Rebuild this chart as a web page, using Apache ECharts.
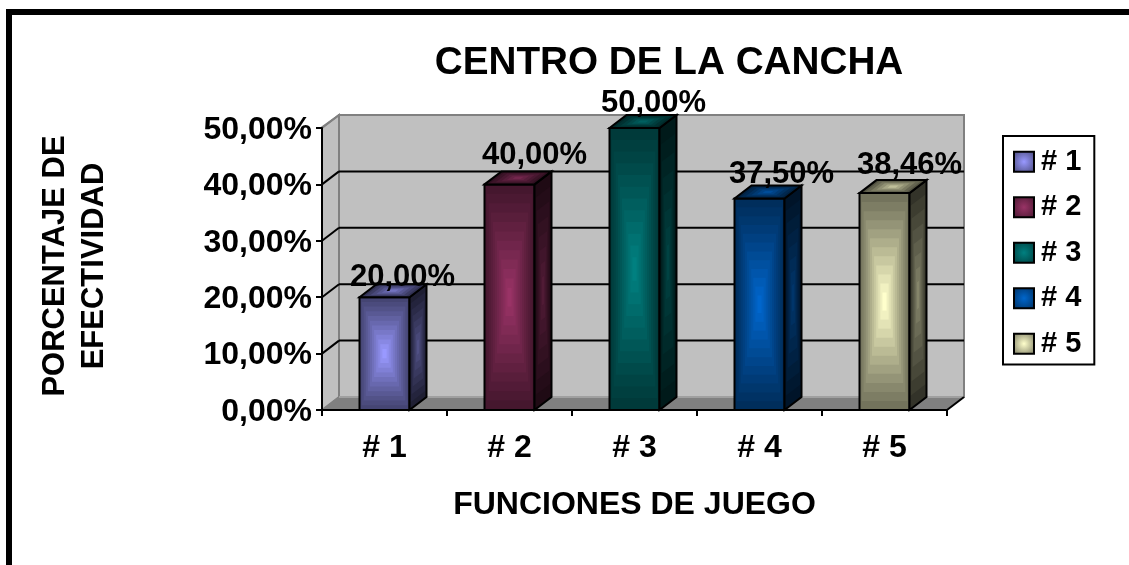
<!DOCTYPE html>
<html>
<head>
<meta charset="utf-8">
<script src="https://cdn.jsdelivr.net/npm/echarts@6/dist/echarts.min.js"></script>
<style>html,body{margin:0;padding:0;background:#fff}#c{width:1129px;height:565px}</style>
</head>
<body>
<div id="c"></div>
<script>
const categories = ['# 1', '# 2', '# 3', '# 4', '# 5'];
const values = [20.00, 40.00, 50.00, 37.50, 38.46];
const valueLabels = ['20,00%', '40,00%', '50,00%', '37,50%', '38,46%'];
const yTicks = [0, 10, 20, 30, 40, 50];
const centerColors = ['#9999ff', '#993366', '#008080', '#0066cc', '#ffffcc'];
const labelShift = [[1, -7], [8, -16], [2, -12], [5, -11], [8, -15]];

const DX = 17, DY = 13, BAR = 50, FONT = '"Liberation Sans", Arial, sans-serif';
const hex = c => [1, 3, 5].map(i => parseInt(c.substr(i, 2), 16));
const mixRGB = (c, f) => 'rgb(' + c.map(v => Math.round(v * f)).join(',') + ')';

function nested(pts, rgb, edgeF, centerF, steps) {
  // concentric quads from the face's edge to its centre
  const out = [];
  const cx = pts.reduce((s, p) => s + p[0], 0) / 4, cy = pts.reduce((s, p) => s + p[1], 0) / 4;
  for (let i = 0; i < steps; i++) {
    const t = i / steps, e = 1 - t;
    const k = Math.pow(i / (steps - 1), 1.1);
    out.push({
      type: 'polygon',
      shape: { points: pts.map(p => [cx + (p[0] - cx) * e, cy + (p[1] - cy) * e]) },
      style: { fill: mixRGB(rgb, edgeF + (centerF - edgeF) * k) }
    });
  }
  out.push({ type: 'polygon', shape: { points: pts }, style: { fill: 'none', stroke: '#000', lineWidth: 2 } });
  return out;
}

function renderWall(params, api) {
  const band = api.size([1, 0])[0];
  const val = api.value(1);
  const p = api.coord([0, val]);
  const x0 = p[0] - band / 2, x1 = x0 + band * categories.length;
  const y0 = api.coord([0, 0])[1], yTop = api.coord([0, yTicks[yTicks.length - 1]])[1];
  const kids = [];
  const line = (a, b, c, w) => ({ type: 'line', shape: { x1: a[0], y1: a[1], x2: b[0], y2: b[1] }, style: { stroke: c, lineWidth: w } });
  if (params.dataIndex === 0) {
    kids.push({ type: 'polygon', shape: { points: [[x0 + DX, yTop - DY], [x1 + DX, yTop - DY], [x1 + DX, y0 - DY], [x0 + DX, y0 - DY]] }, style: { fill: '#c0c0c0', stroke: '#808080', lineWidth: 2 } });
    kids.push({ type: 'polygon', shape: { points: [[x0, yTop], [x0 + DX, yTop - DY], [x0 + DX, y0 - DY], [x0, y0]] }, style: { fill: '#c0c0c0', stroke: '#808080', lineWidth: 2 } });
    kids.push({ type: 'polygon', shape: { points: [[x0, y0], [x1, y0], [x1 + DX, y0 - DY], [x0 + DX, y0 - DY]] }, style: { fill: '#808080', stroke: '#808080', lineWidth: 1 } });
    kids.push(line([x0 + DX, y0 - DY], [x1 + DX, y0 - DY], '#a0a0a0', 2));
    kids.push(line([x1, y0], [x1 + DX, y0 - DY], '#000', 2));
  } else if (val < yTicks[yTicks.length - 1]) {
    kids.push(line([x0, p[1]], [x0 + DX, p[1] - DY], '#000', 2));
    kids.push(line([x0 + DX, p[1] - DY], [x1 + DX, p[1] - DY], '#000', 2));
  } else {
    kids.push(line([x0 - 1, p[1]], [x0 + DX, p[1] - DY], '#808080', 2));
  }
  return { type: 'group', children: kids };
}

function renderBar(params, api) {
  const i = api.value(0), v = api.value(1);
  const top = api.coord([i, v]), base = api.coord([i, 0]);
  const l = top[0] - BAR / 2, r = top[0] + BAR / 2, t = top[1], b = base[1];
  const rgb = hex(centerColors[i]);
  const kids = [];
  kids.push(...nested([[l, t], [r, t], [r, b], [l, b]], rgb, 0.45, 1, 12));
  kids.push(...nested([[r, t], [r + DX, t - DY], [r + DX, b - DY], [r, b]], rgb, 0.2, 0.52, 8));
  kids.push(...nested([[l, t], [l + DX, t - DY], [r + DX, t - DY], [r, t]], rgb, 0.32, 0.75, 6));
  return { type: 'group', children: kids };
}

function renderLabel(params, api) {
  const i = api.value(0), v = api.value(1);
  const p = api.coord([i, v]);
  return {
    type: 'text', z2: 100,
    style: {
      x: p[0] + DX + labelShift[i][0], y: p[1] - DY + labelShift[i][1],
      text: valueLabels[i], fill: '#000', font: 'bold 31px ' + FONT, align: 'center', verticalAlign: 'middle'
    }
  };
}

const legendGrad = c => ({
  type: 'radial', x: 0.5, y: 0.5, r: 0.7,
  colorStops: [{ offset: 0, color: c }, { offset: 1, color: mixRGB(hex(c), 0.45) }]
});

const option = {
  animation: false,
  backgroundColor: '#fff',
  title: {
    text: 'CENTRO DE LA CANCHA', left: 664, top: 39, textAlign: 'center',
    textStyle: { fontFamily: FONT, fontWeight: 'bold', fontSize: 38.7, color: '#000' }
  },
  legend: {
    orient: 'vertical', left: 1003, top: 136,
    padding: [9, 13, 4, 10], itemGap: 12, itemWidth: 20, itemHeight: 20,
    borderColor: '#000', borderWidth: 2, backgroundColor: '#fff',
    textStyle: { fontFamily: FONT, fontWeight: 'bold', fontSize: 29, color: '#000', lineHeight: 33.5, padding: [0, 0, 0, 2] },
    selectedMode: false,
    data: categories.map((c, i) => ({
      name: c, icon: 'rect',
      itemStyle: { color: legendGrad(centerColors[i]), borderColor: '#000', borderWidth: 2 }
    }))
  },
  grid: { left: 322, top: 128, width: 625, height: 282 },
  xAxis: {
    type: 'category', data: categories, z: 3,
    name: 'FUNCIONES DE JUEGO', nameLocation: 'middle', nameGap: 79,
    nameTextStyle: { fontFamily: FONT, fontWeight: 'bold', fontSize: 32, color: '#000' },
    axisLine: { lineStyle: { color: '#000', width: 2 } },
    axisTick: { show: true, alignWithLabel: false, length: 6, lineStyle: { color: '#000', width: 2 } },
    axisLabel: { margin: 22, fontFamily: FONT, fontWeight: 'bold', fontSize: 32, color: '#000' },
    splitLine: { show: false }
  },
  yAxis: {
    type: 'value', min: 0, max: 50, interval: 10, z: 3,
    name: 'PORCENTAJE DE\nEFECTIVIDAD', nameLocation: 'middle', nameRotate: 90, nameGap: 208,
    nameTextStyle: { fontFamily: FONT, fontWeight: 'bold', fontSize: 31, color: '#000', lineHeight: 39, padding: [0, 0, 0, 6] },
    axisLine: { show: true, lineStyle: { color: '#000', width: 2 } },
    axisTick: { show: true, length: 6, lineStyle: { color: '#000', width: 2 } },
    axisLabel: { margin: 10, fontFamily: FONT, fontWeight: 'bold', fontSize: 32, color: '#000', lineHeight: 36, verticalAlign: 'top', padding: [-16, 0, 0, 0], formatter: v => v.toFixed(2).replace('.', ',') + '%' },
    splitLine: { show: false }
  },
  graphic: [
    { type: 'rect', shape: { x: 6, y: 9, width: 1123, height: 6 }, style: { fill: '#000' } },
    { type: 'rect', shape: { x: 6, y: 9, width: 6, height: 556 }, style: { fill: '#000' } }
  ],
  series: [
    {
      type: 'custom', name: 'wall', z: 1, silent: true, clip: false,
      data: yTicks.map(t => [0, t]), renderItem: renderWall
    },
    ...categories.map((c, i) => ({
      type: 'custom', name: c, z: 4, clip: false,
      itemStyle: { color: centerColors[i] },
      data: [[i, values[i]]], renderItem: renderBar
    })),
    {
      type: 'custom', name: 'labels', z: 6, silent: true, clip: false,
      data: values.map((v, i) => [i, v]), renderItem: renderLabel
    }
  ]
};
echarts.init(document.getElementById('c'), null, { renderer: 'canvas' }).setOption(option);
</script>
</body>
</html>
